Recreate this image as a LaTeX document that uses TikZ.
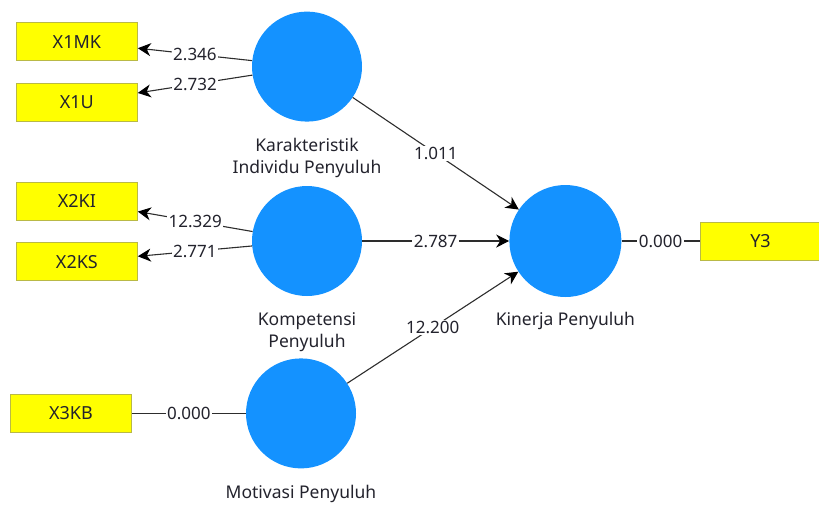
\documentclass[tikz,border=0pt]{standalone}
\usepackage{fontspec}
\setmainfont{Noto Sans}
\usepackage{tikz}
\usetikzlibrary{positioning,arrows.meta}
\definecolor{lvblue}{RGB}{20,146,255}
\definecolor{mvyellow}{RGB}{255,255,0}
\definecolor{mvborder}{RGB}{185,185,70}
\definecolor{linkgrey}{RGB}{45,45,45}
\definecolor{txtdark}{RGB}{35,35,45}

\begin{document}
\begin{tikzpicture}[x=1pt, y=-1pt,
  lv/.style={circle, fill=lvblue, minimum size=110pt, inner sep=0pt},
  mv/.style={rectangle, draw=mvborder, line width=0.8pt, fill=mvyellow, minimum width=121pt, minimum height=38pt, inner sep=0pt, text=txtdark, font=\fontsize{18}{20}\selectfont},
  lvname/.style={align=center, inner sep=0pt, text=txtdark, font=\fontsize{17.5}{22}\selectfont},
  coef/.style={fill=white, inner sep=1.5pt, text=txtdark, font=\fontsize{17}{19}\selectfont},
  plain/.style={draw=linkgrey, line width=1.1pt},
  arr/.style={plain, -{Stealth[length=13pt, width=13pt, inset=4pt, black]}}]
  \useasboundingbox (0,0) rectangle (819,507);
  % latent variables
  \node[lv] (kom) at (307,241) {};
  \node[lv, above=64pt of kom] (kar) {};
  \node[lv, below=62pt of kom, xshift=-6pt] (mot) {};
  \node[lv, right=147pt of kom, minimum size=112pt] (kin) {};
  \node[lvname, below=16pt of kar] (karname) {Karakteristik\\Individu Penyuluh};
  \node[lvname, below=16pt of kom] (komname) {Kompetensi\\Penyuluh};
  \node[lvname, below=16pt of mot] (motname) {Motivasi Penyuluh};
  \node[lvname, below=15pt of kin] (kinname) {Kinerja Penyuluh};
  % indicators
  \node[mv, left=114pt of kar, yshift=25pt] (x1mk) {X1MK};
  \node[mv, below=22pt of x1mk] (x1u) {X1U};
  \node[mv, left=114pt of kom, yshift=40pt] (x2ki) {X2KI};
  \node[mv, below=22pt of x2ki] (x2ks) {X2KS};
  \node[mv, left=114pt of mot] (x3kb) {X3KB};
  \node[mv, right=78pt of kin] (y3) {Y3};

  \draw[arr] (kar) -- node[coef] {2.346} (x1mk);
  \draw[arr] (kar) -- node[coef] {2.732} (x1u);
  \draw[arr] (kom) -- node[coef] {12.329} (x2ki);
  \draw[arr] (kom) -- node[coef] {2.771} (x2ks);
  \draw[plain] (x3kb) -- node[coef] {0.000} (mot);
  \draw[arr] (kar) -- node[coef] {1.011} (kin);
  \draw[arr] (kom) -- node[coef] {2.787} (kin);
  \draw[arr] (mot) -- node[coef] {12.200} (kin);
  \draw[plain] (kin) -- node[coef] {0.000} (y3);
\end{tikzpicture}
\end{document}
